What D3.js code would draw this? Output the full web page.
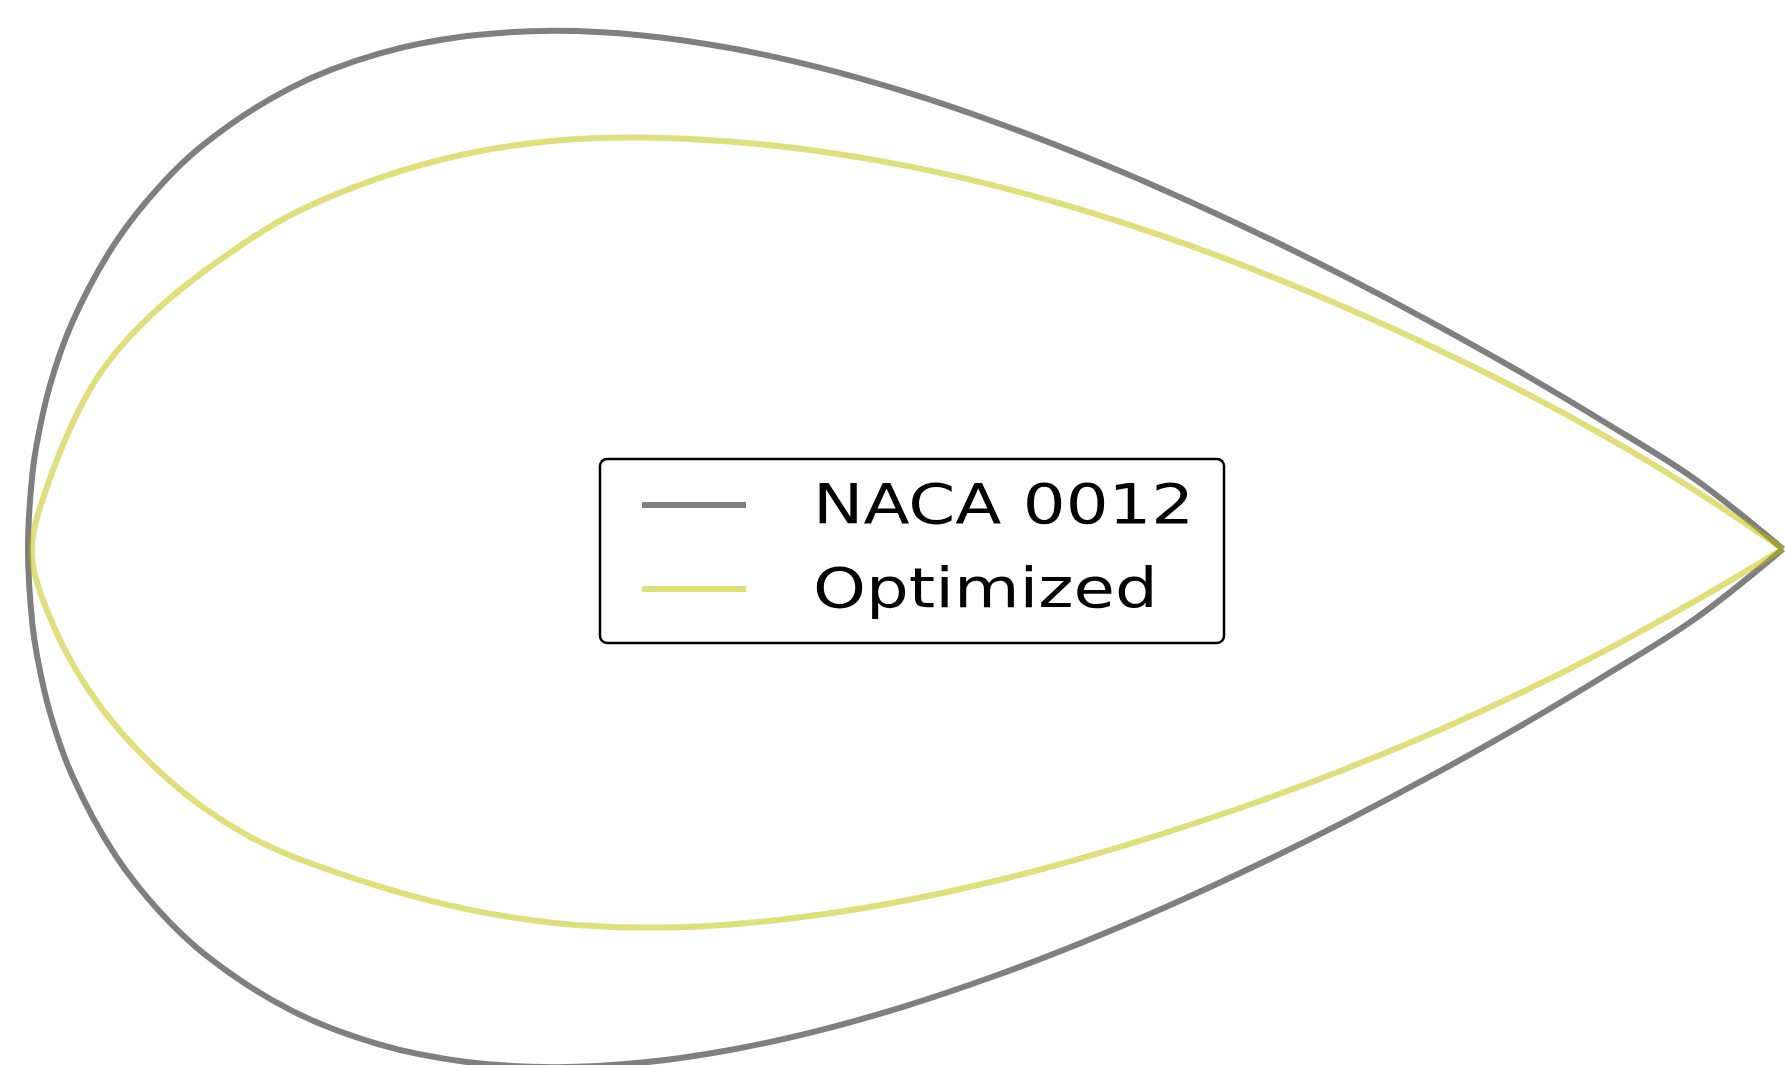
<!DOCTYPE html>
<html>
<head>
<meta charset="utf-8">
<script src="https://cdn.jsdelivr.net/npm/d3@7"></script>
<style>
  body { margin: 0; background: #fff; }
  svg { display: block; }
</style>
</head>
<body>
<div class="chart"></div>
<script>
// NACA 0012 (x/c, upper and lower y/c)
const nacaX = [0, 0.0025, 0.005, 0.0125, 0.025, 0.05, 0.075, 0.1, 0.15, 0.2, 0.25, 0.3, 0.35, 0.4, 0.45, 0.5, 0.55, 0.6, 0.65, 0.7, 0.75, 0.8, 0.85, 0.9, 0.95, 1.0];
const nacaUpper = [0, 0.0087, 0.0122, 0.01894, 0.02615, 0.03555, 0.042, 0.04683, 0.05345, 0.05737, 0.05941, 0.06002, 0.05949, 0.05803, 0.05581, 0.05294, 0.04952, 0.04563, 0.04133, 0.03664, 0.0316, 0.02623, 0.02054, 0.01448, 0.00807, 0];
const nacaLower = [0, -0.0087, -0.0122, -0.01894, -0.02615, -0.03555, -0.042, -0.04683, -0.05345, -0.05737, -0.05941, -0.06002, -0.05949, -0.05803, -0.05581, -0.05294, -0.04952, -0.04563, -0.04133, -0.03664, -0.0316, -0.02623, -0.02054, -0.01448, -0.00807, 0];

// optimized shape
const optLE = [0.0017, -0.0002];
const optX = [0.003, 0.008, 0.02, 0.035, 0.05, 0.075, 0.1, 0.125, 0.15, 0.2, 0.25, 0.3, 0.35, 0.4, 0.45, 0.5, 0.55, 0.6, 0.65, 0.7, 0.75, 0.8, 0.85, 0.9, 0.95, 1.0];
const optUpper = [0.0022, 0.0057, 0.0124, 0.0187, 0.023, 0.0282, 0.0322, 0.0357, 0.039, 0.0432, 0.046, 0.0475, 0.0478, 0.0473, 0.0462, 0.0445, 0.0422, 0.0394, 0.0361, 0.0323, 0.0281, 0.0235, 0.0185, 0.013, 0.0069, 0];
const optLower = [-0.0026, -0.0058, -0.0116, -0.0166, -0.0207, -0.026, -0.0301, -0.0333, -0.0357, -0.0392, -0.0419, -0.0435, -0.044, -0.0436, -0.0425, -0.0408, -0.0386, -0.0359, -0.0328, -0.0294, -0.0256, -0.0214, -0.0168, -0.0117, -0.0061, 0];

const seriesNames = ["NACA 0012", "Optimized"];

const width = 1785;
const height = 1065;

const svg = d3.select('.chart')
  .append('svg')
  .attr('width', width)
  .attr('height', height);

const x = d3.scaleLinear()
  .domain([0, 1])
  .range([28, 1783]);

const y = d3.scaleLinear()
  .domain([-0.06, 0.06])
  .range([1067, 31]);

// trailing edge -> upper -> leading edge -> lower -> trailing edge
const outline = (xs, up, lo, le) => {
  let pts = xs.map((d, i) => [d, up[i]]).reverse();
  let low = xs.map((d, i) => [d, lo[i]]);
  if (le) pts.push(le);
  else low = low.slice(1);
  return pts.concat(low);
};

const naca = outline(nacaX, nacaUpper, nacaLower, null);
const opt = outline(optX, optUpper, optLower, optLE);

const line = curve => d3.line()
  .x(d => x(d[0]))
  .y(d => y(d[1]))
  .curve(curve);

const shapes = [
  { name: seriesNames[0], pts: naca, color: '#000000', opacity: 0.5, curve: d3.curveCatmullRom.alpha(0.5) },
  { name: seriesNames[1], pts: opt, color: '#bfbf00', opacity: 0.5, curve: d3.curveBasis }
];

svg.append('g')
  .selectAll('path')
  .data(shapes)
  .join('path')
  .attr('d', d => line(d.curve)(d.pts))
  .attr('fill', 'none')
  .attr('stroke', d => d.color)
  .attr('stroke-opacity', d => d.opacity)
  .attr('stroke-width', 6)
  .attr('stroke-linejoin', 'round');

// legend
const legend = svg.append('g');

legend.append('rect')
  .attr('x', 600)
  .attr('y', 459)
  .attr('width', 624)
  .attr('height', 184)
  .attr('rx', 7)
  .attr('fill', '#fff')
  .attr('stroke', '#000')
  .attr('stroke-width', 2.5);

const rows = legend.selectAll('g.row')
  .data(shapes)
  .join('g')
  .attr('class', 'row');

rows.append('line')
  .attr('x1', 642)
  .attr('x2', 746)
  .attr('y1', (d, i) => 505 + i * 84)
  .attr('y2', (d, i) => 505 + i * 84)
  .attr('stroke', d => d.color)
  .attr('stroke-opacity', d => d.opacity)
  .attr('stroke-width', 6);

rows.append('text')
  .attr('transform', (d, i) => `translate(813,${523 + i * 84}) scale(1.225,1)`)
  .attr('font-family', 'DejaVu Sans')
  .attr('font-size', '55px')
  .attr('fill', '#000')
  .text(d => d.name);
</script>
</body>
</html>
